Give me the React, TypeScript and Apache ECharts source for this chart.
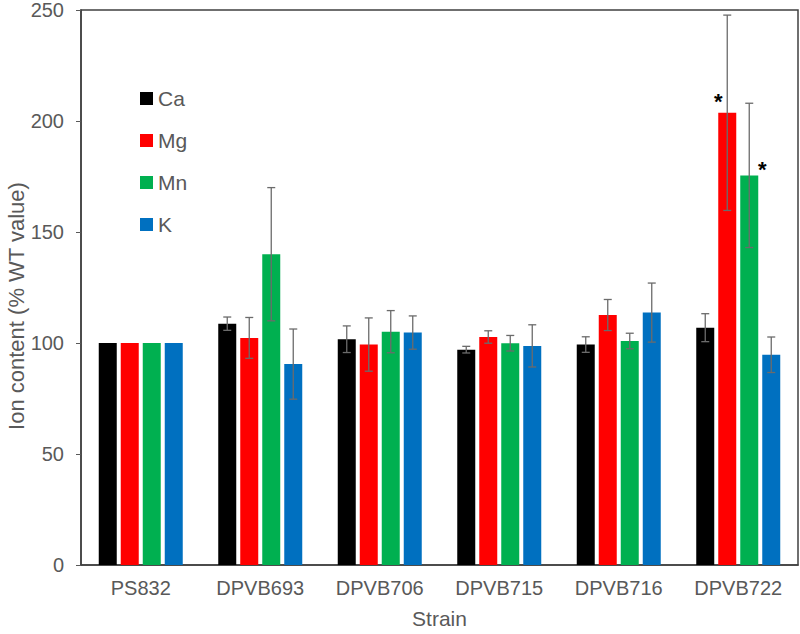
import React, { useEffect, useRef } from "react";
import * as echarts from "echarts";

const strains = ["PS832", "DPVB693", "DPVB706", "DPVB715", "DPVB716", "DPVB722"];
const ions = ["Ca", "Mg", "Mn", "K"];
const colors = ["#000000", "#ff0000", "#00b050", "#0070c0"];

const caValues = [100, 108.7, 101.7, 97, 99.3, 106.9];
const mgValues = [100, 102.3, 99.3, 102.7, 112.6, 203.7];
const mnValues = [100, 140, 105.1, 99.9, 100.9, 175.5];
const kValues = [100, 90.5, 104.7, 98.7, 113.7, 94.7];

const caErrors = [0, 3, 6, 1.5, 3.5, 6.3];
const mgErrors = [0, 9.2, 12, 2.8, 7, 44];
const mnErrors = [0, 30, 9.5, 3.5, 3.5, 32.5];
const kErrors = [0, 15.8, 7.5, 9.5, 13.3, 8];

// significance marks: [ion index, strain index]
const stars = [
  [1, 5],
  [2, 5],
];

const yTicks = [0, 50, 100, 150, 200, 250];
const yAxisTitle = "Ion content (% WT value)";
const xAxisTitle = "Strain";

const allValues = [caValues, mgValues, mnValues, kValues];
const allErrors = [caErrors, mgErrors, mnErrors, kErrors];

export default function App() {
  const ref = useRef<HTMLDivElement>(null);
  useEffect(() => {
    document.body.style.margin = "0";
    if (!ref.current) return;
    const chart = echarts.init(ref.current, null, { renderer: "svg" });
    const font = "'Liberation Sans', Arial, sans-serif";
    const gray = "#595959";
    const barWidth = 18;
    const gap = 4;
    const offsets = [-1.5, -0.5, 0.5, 1.5].map((k) => k * (barWidth + gap));

    const barSeries = ions.map((ion, i) => ({
      name: ion,
      type: "bar",
      barWidth: barWidth,
      barGap: (gap / barWidth) * 100 + "%",
      itemStyle: { color: colors[i] },
      data: allValues[i].map((v, j) => {
        const star = stars.find((s) => s[0] === i && s[1] === j);
        if (!star) return v;
        return {
          value: v,
          label: {
            show: true,
            formatter: "*",
            position: "top",
            offset: i === 1 ? [-9, 5] : [13, 10],
            fontSize: 22,
            fontWeight: "bold",
            color: "#000",
            fontFamily: font,
          },
        };
      }),
    }));

    const errSeries = ions.map((ion, i) => ({
      name: ion + "_err",
      type: "custom",
      z: 10,
      data: allValues[i].map((v, j) => [j, v - allErrors[i][j], v + allErrors[i][j]]),
      renderItem: (params: any, api: any) => {
        const idx = api.value(0);
        const lo = api.coord([idx, api.value(1)]);
        const hi = api.coord([idx, api.value(2)]);
        const x = lo[0] + offsets[i];
        const cap = 4;
        if (Math.abs(hi[1] - lo[1]) < 0.5) return { type: "group", children: [] };
        const style = { stroke: "#6b6b6b", lineWidth: 1.3 };
        return {
          type: "group",
          children: [
            { type: "line", shape: { x1: x, y1: lo[1], x2: x, y2: hi[1] }, style },
            { type: "line", shape: { x1: x - cap, y1: lo[1], x2: x + cap, y2: lo[1] }, style },
            { type: "line", shape: { x1: x - cap, y1: hi[1], x2: x + cap, y2: hi[1] }, style },
          ],
        };
      },
    }));

    chart.setOption({
      animation: false,
      grid: {
        left: 81,
        right: 2,
        top: 10,
        bottom: 65,
        show: true,
        borderColor: "#404040",
        borderWidth: 1.5,
      },
      legend: {
        data: ions,
        orient: "vertical",
        left: 135,
        top: 83,
        itemWidth: 13,
        itemHeight: 13,
        itemGap: 21,
        icon: "rect",
        textStyle: { fontSize: 21, lineHeight: 21, color: gray, fontFamily: font },
      },
      graphic: [
        {
          type: "text",
          x: 16,
          y: 306,
          rotation: Math.PI / 2,
          style: {
            text: yAxisTitle,
            fontSize: 22,
            fill: gray,
            fontFamily: font,
            textAlign: "center",
            textVerticalAlign: "middle",
          },
        },
      ],
      xAxis: {
        type: "category",
        data: strains,
        name: xAxisTitle,
        nameLocation: "middle",
        nameGap: 43,
        nameTextStyle: { fontSize: 21, color: gray, fontFamily: font },
        axisLine: { lineStyle: { color: "#404040", width: 1.5 } },
        axisTick: { show: false },
        axisLabel: { fontSize: 20, color: gray, fontFamily: font, margin: 13 },
      },
      yAxis: {
        type: "value",
        min: yTicks[0],
        max: yTicks[yTicks.length - 1],
        interval: 50,
        axisLine: { show: true, lineStyle: { color: "#404040", width: 1.5 } },
        axisTick: { show: true, length: 5, lineStyle: { color: gray } },
        splitLine: { show: false },
        axisLabel: { fontSize: 20, color: gray, fontFamily: font, margin: 17 },
      },
      series: [...barSeries, ...errSeries],
    });
    return () => chart.dispose();
  }, []);
  return <div ref={ref} style={{ width: 800, height: 634 }} />;
}
